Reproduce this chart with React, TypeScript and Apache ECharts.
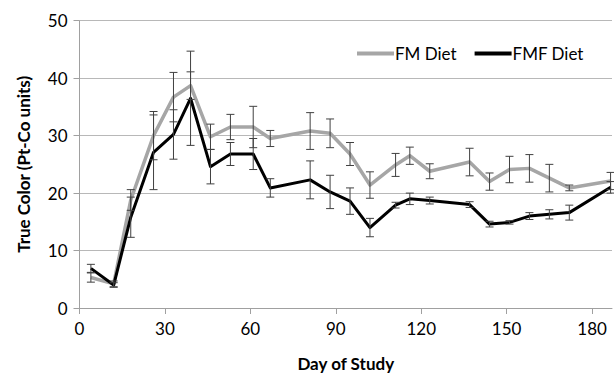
import React, { useEffect, useRef } from "react";
import * as echarts from "echarts";

const days = [4, 12, 18, 26, 33, 39, 46, 53, 61, 67, 81, 88, 95, 102, 111, 116, 123, 137, 144, 151, 158, 165, 172, 186.5];
const fmValues = [5.3, 4.2, 18.8, 30, 36.7, 38.7, 29.8, 31.5, 31.5, 29.5, 30.8, 30.4, 26.8, 21.4, 24.9, 26.5, 23.8, 25.4, 22.0, 24.1, 24.3, 22.6, 20.9, 22.1];
const fmErrors = [0.8, 0.5, 1.8, 4.2, 4.3, 2.4, 2.2, 2.2, 3.6, 1.4, 3.2, 2.5, 2.0, 2.3, 2.0, 1.5, 1.3, 2.4, 1.5, 2.3, 2.4, 2.4, 0.5, 1.5];
const fmfValues = [6.9, 4.0, 15.8, 27.1, 30.2, 36.5, 24.6, 26.8, 26.8, 20.9, 22.3, 20.2, 18.6, 14.0, 17.9, 19.0, 18.7, 18.0, 14.6, 14.9, 16.0, 16.3, 16.6, 21.0];
const fmfErrors = [0.7, 0.4, 3.5, 6.5, 4.3, 8.2, 3.0, 2.0, 2.7, 1.6, 3.3, 2.9, 2.3, 1.6, 0.5, 1.0, 0.6, 0.5, 0.5, 0.3, 0.6, 0.8, 1.3, 1.0];
const seriesNames = ["FM Diet", "FMF Diet"];

const FONT = "Lato, 'Open Sans', sans-serif";

function errorBarRender(params: any, api: any) {
  const x = api.value(0);
  const y = api.value(1);
  const e = api.value(2);
  const top = api.coord([x, y + e]);
  const bot = api.coord([x, y - e]);
  const style = { stroke: "#404040", lineWidth: 1 };
  const cap = 4;
  return {
    type: "group",
    children: [
      { type: "line", shape: { x1: top[0], y1: top[1], x2: bot[0], y2: bot[1] }, style },
      { type: "line", shape: { x1: top[0] - cap, y1: top[1], x2: top[0] + cap, y2: top[1] }, style },
      { type: "line", shape: { x1: bot[0] - cap, y1: bot[1], x2: bot[0] + cap, y2: bot[1] }, style },
    ],
  };
}

export default function App() {
  const ref = useRef<HTMLDivElement>(null);
  useEffect(() => {
    if (!ref.current) return;
    const chart = echarts.init(ref.current, undefined, { renderer: "svg" });
    const fmLine = days.map((d, i) => [d, fmValues[i]]);
    const fmfLine = days.map((d, i) => [d, fmfValues[i]]);
    const fmErr = days.map((d, i) => [d, fmValues[i], fmErrors[i]]);
    const fmfErr = days.map((d, i) => [d, fmfValues[i], fmfErrors[i]]);
    chart.setOption({
      animation: false,
      backgroundColor: "#ffffff",
      grid: { left: 79.5, right: 2, top: 20.7, bottom: 65.3, containLabel: false },
      legend: {
        data: seriesNames.map((n) => ({ name: n, icon: "rect" })),
        left: 352,
        top: 40,
        itemWidth: 37,
        itemHeight: 4,
        itemGap: 18,
        textStyle: { fontFamily: FONT, fontSize: 17, color: "#000", padding: [0, 0, 0, -4] },
      },
      xAxis: {
        type: "value",
        min: 0,
        max: 187,
        interval: 30,
        name: "Day of Study",
        nameLocation: "middle",
        nameGap: 47,
        nameTextStyle: { fontFamily: FONT, fontSize: 17, fontWeight: "bold", color: "#000" },
        axisLine: { show: true, onZero: false, lineStyle: { color: "#a0a0a0", width: 1 } },
        axisTick: { show: true, length: 6, lineStyle: { color: "#a0a0a0" } },
        axisLabel: { fontFamily: FONT, fontSize: 17, color: "#000", margin: 12, showMaxLabel: false },
        splitLine: { show: false },
      },
      yAxis: {
        type: "value",
        min: 0,
        max: 50,
        interval: 10,
        name: "True Color (Pt-Co units)",
        nameLocation: "middle",
        nameGap: 48,
        nameTextStyle: { fontFamily: FONT, fontSize: 17, fontWeight: "bold", color: "#000" },
        axisLine: { show: true, lineStyle: { color: "#a0a0a0", width: 1 } },
        axisTick: { show: true, length: 6, lineStyle: { color: "#a0a0a0" } },
        axisLabel: { fontFamily: FONT, fontSize: 17, color: "#000", margin: 12 },
        splitLine: { show: true, lineStyle: { color: "#b8b8b8", width: 1 } },
      },
      series: [
        {
          name: seriesNames[0],
          type: "line",
          data: fmLine,
          symbol: "none",
          lineStyle: { color: "#a6a6a6", width: 3.5, join: "round" },
          itemStyle: { color: "#a6a6a6" },
          z: 2,
        },
        {
          name: seriesNames[1],
          type: "line",
          data: fmfLine,
          symbol: "none",
          lineStyle: { color: "#000000", width: 3, join: "round" },
          itemStyle: { color: "#000000" },
          z: 3,
        },
        {
          name: "FM err",
          type: "custom",
          data: fmErr,
          renderItem: errorBarRender,
          encode: { x: 0, y: 1 },
          clip: false,
          z: 4,
        },
        {
          name: "FMF err",
          type: "custom",
          data: fmfErr,
          renderItem: errorBarRender,
          encode: { x: 0, y: 1 },
          clip: false,
          z: 4,
        },
      ],
    });
    return () => chart.dispose();
  }, []);
  return <div ref={ref} style={{ width: 614, height: 377, position: "absolute", left: 0, top: 0 }} />;
}
